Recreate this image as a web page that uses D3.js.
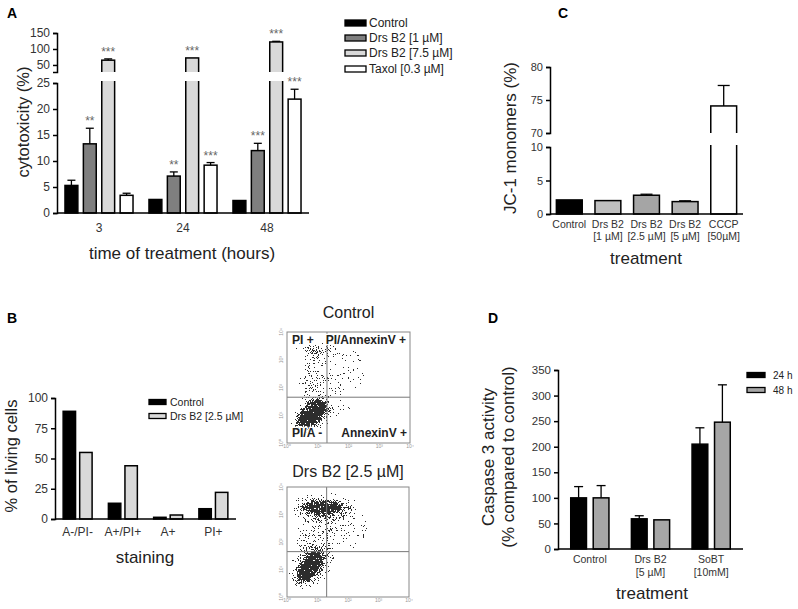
<!DOCTYPE html>
<html><head><meta charset="utf-8">
<script src="https://cdn.jsdelivr.net/npm/d3@7"></script>
<style>
body{margin:0;background:#fff;}
svg text{font-family:"Liberation Sans",Arial,sans-serif;}
</style></head><body>
<svg id="c" width="798" height="609"></svg>
<script>
// ---------------- DATA ----------------
// Panel A : cytotoxicity
const aTimes = ["3","24","48"];
const aSeries = ["Control","Drs B2 [1 µM]","Drs B2 [7.5 µM]","Taxol [0.3 µM]"];
const aControl = [5.3, 2.6, 2.4];
const aDrs1 = [13.3, 7.1, 12.0];
const aDrs75 = [65, 72, 122];
const aTaxol = [3.4, 9.2, 21.9];
const aControlErr = [1.0, 0.1, 0.1];
const aDrs1Err = [3.0, 0.8, 1.4];
const aDrs75Err = [4, 1, 2];
const aTaxolErr = [0.4, 0.5, 1.9];
const aStars = [["","**","***",""],["","**","***","***"],["","***","***","***"]];
const aLowTicks = [0,5,10,15,20,25];
const aHighTicks = [50,100,150];

// Panel B : annexin / PI staining
const bCats = ["A-/PI-","A+/PI+","A+","PI+"];
const bSeries = ["Control","Drs B2 [2.5 µM]"];
const bControl = [89, 13, 1.4, 8.5];
const bDrs = [55, 44, 3.3, 22];
const bTicks = [0,25,50,75,100];

// Panel B : flow cytometry (log decades), cluster density summaries
const flowDecades = [0,1,2,3,4];
const flowGateX = 1.3, flowGateY = 1.65;
const flowControl = [
  {x:1.3,y:1.4,a:0.8,b:0.5,ang:0,d:0.06},
  {x:1.8,y:2.6,a:0.7,b:0.65,ang:0,d:0.06},
  {x:0.85,y:2.3,a:1.0,b:0.3,ang:-85,d:0.22},
  {x:1.0,y:3.35,a:0.6,b:0.2,ang:0,d:0.3},
  {x:0.85,y:1.05,a:0.72,b:0.44,ang:-45,d:0.35},
  {x:0.82,y:1.03,a:0.55,b:0.29,ang:-40,d:1.0}
];
const flowDrs = [
  {x:1.9,y:2.6,a:0.7,b:0.7,ang:0,d:0.06},
  {x:1.0,y:2.2,a:0.9,b:0.55,ang:-80,d:0.2},
  {x:1.25,y:3.2,a:1.0,b:0.38,ang:0,d:0.3},
  {x:1.15,y:3.27,a:0.65,b:0.2,ang:0,d:1.0},
  {x:0.8,y:1.15,a:0.8,b:0.48,ang:-50,d:0.3},
  {x:0.75,y:1.1,a:0.55,b:0.3,ang:-55,d:0.95}
];

// Panel C : JC-1 monomers
const cCats = [["Control"],["Drs B2","[1 µM]"],["Drs B2","[2.5 µM]"],["Drs B2","[5 µM]"],["CCCP","[50µM]"]];
const cValues = [2.1, 2.0, 2.8, 1.85, 74.1];
const cErr = [0, 0, 0.15, 0.12, 3.1];
const cLowTicks = [0,5,10];
const cHighTicks = [70,75,80];

// Panel D : caspase 3
const dCats = [["Control"],["Drs B2","[5 µM]"],["SoBT","[10mM]"]];
const dSeries = ["24 h","48 h"];
const d24 = [100, 59, 205];
const d24Err = [22, 6, 32];
const d48 = [100, 57, 248];
const d48Err = [24, 1, 73];
const dTicks = [0,50,100,150,200,250,300,350];

// ---------------- HELPERS ----------------
const svg = d3.select("#c");
const defs = svg.append("defs");
const TXT = "#222";

function yAxis(g, scale, ticks, fs){
  g.call(d3.axisLeft(scale).tickValues(ticks).tickSize(4).tickSizeOuter(4).tickPadding(3));
  g.attr("font-size", fs).attr("font-family", null);
  g.selectAll("text").attr("fill","#333");
  g.selectAll("path,line").attr("stroke","#000").attr("stroke-width",1.5);
}
let clipN = 0;
function makeClip(x0,y0,x1,y1){
  const id = "clip"+(clipN++);
  defs.append("clipPath").attr("id",id).append("rect")
    .attr("x",x0).attr("y",y0).attr("width",x1-x0).attr("height",y1-y0);
  return id;
}
// segs: [{scale, clip}] bottom to top
function drawBar(g, segs, x, w, v, e, fill, cap){
  segs.forEach((s,i)=>{
    const [d0,d1] = s.scale.domain(); const [r0,r1] = s.scale.range();
    if(i>0 && v <= d0) return;
    const yt = v >= d1 ? r1 - 14 : s.scale(v);
    const yb = i===0 ? s.scale(0) : r0 + 14;
    const r = g.append("rect").attr("x",x).attr("y",yt).attr("width",w).attr("height",yb-yt)
      .attr("fill",fill).attr("stroke","#000").attr("stroke-width",1.5);
    if(s.clip) r.attr("clip-path","url(#"+s.clip+")");
  });
  let s = segs.find(s=>{const [d0,d1]=s.scale.domain(); return v>=d0 && v<=d1;}) || segs[segs.length-1];
  const y0 = s.scale(v), y1 = s.scale(v+e);
  const cx = x + w/2;
  if(y0 - y1 > 0.6){
    g.append("line").attr("x1",cx).attr("x2",cx).attr("y1",y0).attr("y2",y1).attr("stroke","#000").attr("stroke-width",1.3);
    g.append("line").attr("x1",cx-cap/2).attr("x2",cx+cap/2).attr("y1",y1).attr("y2",y1).attr("stroke","#000").attr("stroke-width",1.3);
  }
  return y1;
}
function text(g,x,y,str,fs,anchor,opt){
  const t = g.append("text").attr("x",x).attr("y",y).attr("font-size",fs)
    .attr("text-anchor",anchor||"start").attr("fill",(opt&&opt.fill)||TXT).text(str);
  if(opt&&opt.bold) t.attr("font-weight","bold");
  return t;
}
function vtext(g,x,y,str,fs){
  return g.append("text").attr("transform",`translate(${x},${y}) rotate(-90)`)
    .attr("font-size",fs).attr("text-anchor","middle").attr("fill",TXT).text(str);
}
function legend(g, x, ys, names, fills, sw, sh, fs, tx){
  names.forEach((n,i)=>{
    g.append("rect").attr("x",x).attr("y",ys[i]-sh/2).attr("width",sw).attr("height",sh)
      .attr("fill",fills[i]).attr("stroke","#000").attr("stroke-width",1.3);
    text(g, x+sw+tx, ys[i]+fs*0.36, n, fs);
  });
}

// ---------------- PANEL A ----------------
{
  const g = svg.append("g");
  text(g,7,18,"A",14,"start",{bold:true,fill:"#000"});
  const x0 = d3.scaleBand().domain(aTimes).range([57,309]).paddingInner(0.19).paddingOuter(0.095);
  const x1 = d3.scaleBand().domain(aSeries).range([0,x0.bandwidth()]).paddingInner(0.3);
  const yLow = d3.scaleLinear().domain([0,25]).range([213,83]);
  const yHigh = d3.scaleLinear().domain([28,150]).range([72,33]);
  const segs = [
    {scale:yLow, clip:makeClip(40,81,330,216)},
    {scale:yHigh, clip:makeClip(40,10,330,72)}
  ];
  const fills = ["#000","#7f7f7f","#d9d9d9","#fff"];
  const vals = [aControl,aDrs1,aDrs75,aTaxol];
  const errs = [aControlErr,aDrs1Err,aDrs75Err,aTaxolErr];
  aTimes.forEach((t,i)=>{
    aSeries.forEach((s,j)=>{
      const x = x0(t)+x1(s);
      const yt = drawBar(g, segs, x, x1.bandwidth(), vals[j][i], errs[j][i], fills[j], 8);
      if(aStars[i][j]) text(g, x+x1.bandwidth()/2, yt-3, aStars[i][j], 12, "middle", {fill:"#666"});
    });
    text(g, x0(t)+x0.bandwidth()/2, 232, t, 12, "middle", {fill:"#333"});
  });
  yAxis(g.append("g").attr("transform","translate(57,0)"), yLow, aLowTicks, 12);
  yAxis(g.append("g").attr("transform","translate(57,0)"), yHigh, aHighTicks, 12);
  g.append("line").attr("x1",57).attr("x2",309).attr("y1",213).attr("y2",213).attr("stroke","#000").attr("stroke-width",1.5);
  vtext(g, 29, 122, "cytotoxicity (%)", 16.5);
  text(g, 182, 259, "time of treatment (hours)", 17, "middle");
  legend(g, 345, [23,38,53,69], aSeries, fills, 21, 6, 12, 3);
}

// ---------------- PANEL C ----------------
{
  const g = svg.append("g");
  text(g,558,18,"C",14,"start",{bold:true,fill:"#000"});
  const x = d3.scaleBand().domain(cCats.map(c=>c.join(" "))).range([550,743]).paddingInner(0.33).paddingOuter(0.165);
  const yLow = d3.scaleLinear().domain([0,10]).range([214,147]);
  const yHigh = d3.scaleLinear().domain([70,80]).range([133,67]);
  const segs = [
    {scale:yLow, clip:makeClip(540,145,760,218)},
    {scale:yHigh, clip:makeClip(540,20,760,133)}
  ];
  const fills = ["#000","#bfbfbf","#a5a5a5","#b2b2b2","#fff"];
  cCats.forEach((c,i)=>{
    const k = c.join(" ");
    drawBar(g, segs, x(k), x.bandwidth(), cValues[i], cErr[i], fills[i], 12);
    c.forEach((line,li)=> text(g, x(k)+x.bandwidth()/2, 228+li*12, line, 10.5, "middle", {fill:"#333"}));
  });
  yAxis(g.append("g").attr("transform","translate(550,0)"), yLow, cLowTicks, 11);
  yAxis(g.append("g").attr("transform","translate(550,0)"), yHigh, cHighTicks, 11);
  g.append("line").attr("x1",550).attr("x2",743).attr("y1",214).attr("y2",214).attr("stroke","#000").attr("stroke-width",1.5);
  vtext(g, 516, 138, "JC-1 monomers (%)", 17);
  text(g, 646, 264, "treatment", 17, "middle");
}

// ---------------- PANEL B (bars) ----------------
{
  const g = svg.append("g");
  text(g,7,323,"B",14,"start",{bold:true,fill:"#000"});
  const x0 = d3.scaleBand().domain(bCats).range([55,236]).paddingInner(0.36).paddingOuter(0.18);
  const x1 = d3.scaleBand().domain(bSeries).range([0,x0.bandwidth()]).paddingInner(0.25);
  const y = d3.scaleLinear().domain([0,100]).range([519,398]);
  const segs = [{scale:y, clip:null}];
  const fills = ["#000","#d9d9d9"];
  const vals = [bControl,bDrs];
  bCats.forEach((c,i)=>{
    bSeries.forEach((s,j)=> drawBar(g, segs, x0(c)+x1(s), x1.bandwidth(), vals[j][i], 0, fills[j], 0));
    text(g, x0(c)+x0.bandwidth()/2, 536, c, 12, "middle", {fill:"#333"});
  });
  yAxis(g.append("g").attr("transform","translate(55,0)"), y, bTicks, 12);
  g.append("line").attr("x1",55).attr("x2",236).attr("y1",519).attr("y2",519).attr("stroke","#000").attr("stroke-width",1.5);
  vtext(g, 17, 456, "% of living cells", 16.5);
  text(g, 145, 563, "staining", 17, "middle");
  legend(g, 149, [402,416], bSeries, fills, 17, 5, 10.5, 4);
}

// ---------------- PANEL B (flow cytometry) ----------------
function flowPlot(id, box, title, titleY, clusters, seed, labels){
  const g = svg.append("g");
  const fx = d3.scaleLinear().domain([0,4]).range([box.x0, box.x1]);
  const fy = d3.scaleLinear().domain([0,4]).range([box.y1, box.y0]);
  const f = defs.append("filter").attr("id",id).attr("filterUnits","userSpaceOnUse")
    .attr("x",box.x0).attr("y",box.y0).attr("width",box.x1-box.x0).attr("height",box.y1-box.y0)
    .attr("color-interpolation-filters","sRGB");
  f.append("feGaussianBlur").attr("in","SourceGraphic").attr("stdDeviation",2.5).attr("result","blob");
  f.append("feTurbulence").attr("type","fractalNoise").attr("baseFrequency",1.6).attr("numOctaves",1).attr("seed",seed).attr("result","noise");
  f.append("feColorMatrix").attr("in","noise").attr("type","matrix")
    .attr("values","0 0 0 0 0  0 0 0 0 0  0 0 0 0 0  2.5 0 0 0 -0.75").attr("result","n");
  f.append("feComposite").attr("in","blob").attr("in2","n").attr("operator","arithmetic")
    .attr("k1",0).attr("k2",1).attr("k3",-1).attr("k4",0.49).attr("result","d");
  const ct = f.append("feComponentTransfer").attr("in","d");
  ["feFuncR","feFuncG","feFuncB"].forEach(fn=>ct.append(fn).attr("type","linear").attr("slope",0).attr("intercept",0.18));
  ct.append("feFuncA").attr("type","discrete").attr("tableValues","0 1");

  const dots = g.append("g").attr("filter","url(#"+id+")");
  dots.append("rect").attr("x",box.x0).attr("y",box.y0).attr("width",box.x1-box.x0).attr("height",box.y1-box.y0).attr("fill","#000").attr("fill-opacity",0.0);
  const pxPerDec = fx(1)-fx(0);
  clusters.forEach(c=>{
    dots.append("ellipse")
      .attr("transform",`translate(${fx(c.x)},${fy(c.y)}) rotate(${c.ang})`)
      .attr("rx",c.a*pxPerDec).attr("ry",c.b*pxPerDec)
      .attr("fill","#000").attr("fill-opacity",c.d);
  });
  g.append("line").attr("x1",fx(flowGateX)).attr("x2",fx(flowGateX)).attr("y1",box.y0).attr("y2",box.y1).attr("stroke","#777").attr("stroke-width",1);
  g.append("line").attr("x1",box.x0).attr("x2",box.x1).attr("y1",fy(flowGateY)).attr("y2",fy(flowGateY)).attr("stroke","#777").attr("stroke-width",1);
  g.append("rect").attr("x",box.x0).attr("y",box.y0).attr("width",box.x1-box.x0).attr("height",box.y1-box.y0)
    .attr("fill","none").attr("stroke","#888").attr("stroke-width",1);
  const sup = ["⁰","¹","²","³","⁴"];
  flowDecades.forEach(d=>{
    text(g, fx(d), box.y1+5, "10"+sup[d], 5, "middle", {fill:"#999"});
    g.append("text").attr("transform",`translate(${box.x0-4},${fy(d)}) rotate(-90)`).attr("font-size",5)
      .attr("text-anchor","middle").attr("fill","#999").text("10"+sup[d]);
  });
  text(g, (box.x0+box.x1)/2, titleY, title, 16, "middle");
  labels.forEach(l=> text(g, l.x, l.y, l.t, 12, l.anchor, {bold:true, fill:"#222"})
    .attr("stroke","#fff").attr("stroke-width",2.5).attr("paint-order","stroke"));
}
flowPlot("flowC", {x0:287,x1:410,y0:332,y1:443}, "Control", 318, flowControl, 3, [
  {t:"PI +", x:292, y:344, anchor:"start"},
  {t:"PI/AnnexinV +", x:406, y:344, anchor:"end"},
  {t:"PI/A -", x:292, y:437, anchor:"start"},
  {t:"AnnexinV +", x:407, y:437, anchor:"end"}
]);
flowPlot("flowD", {x0:287,x1:409,y0:487,y1:597}, "Drs B2 [2.5 µM]", 477, flowDrs, 11, []);

// ---------------- PANEL D ----------------
{
  const g = svg.append("g");
  text(g,488,323,"D",14,"start",{bold:true,fill:"#000"});
  const x0 = d3.scaleBand().domain(dCats.map(c=>c.join(" "))).range([558,743]).paddingInner(0.37).paddingOuter(0.21);
  const x1 = d3.scaleBand().domain(dSeries).range([0,x0.bandwidth()]).paddingInner(0.3);
  const y = d3.scaleLinear().domain([0,350]).range([549,370]);
  const segs = [{scale:y, clip:null}];
  const fills = ["#000","#a6a6a6"];
  const vals = [d24,d48], errs = [d24Err,d48Err];
  dCats.forEach((c,i)=>{
    const k = c.join(" ");
    dSeries.forEach((s,j)=> drawBar(g, segs, x0(k)+x1(s), x1.bandwidth(), vals[j][i], errs[j][i], fills[j], 9));
    c.forEach((line,li)=> text(g, x0(k)+x0.bandwidth()/2, 563+li*12.5, line, 10.5, "middle", {fill:"#333"}));
  });
  yAxis(g.append("g").attr("transform","translate(558,0)"), y, dTicks, 11.5);
  g.append("line").attr("x1",558).attr("x2",743).attr("y1",549).attr("y2",549).attr("stroke","#000").attr("stroke-width",1.5);
  vtext(g, 494, 457, "Caspase 3 activity", 17);
  vtext(g, 514, 457, "(% compared to control)", 17);
  text(g, 652, 599, "treatment", 17, "middle");
  legend(g, 747, [375,390], dSeries, fills, 18, 5, 10, 8);
}
</script>
</body></html>
